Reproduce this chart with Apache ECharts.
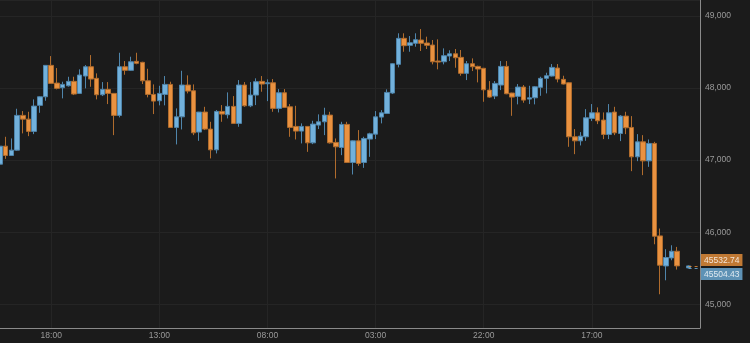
<!DOCTYPE html>
<html>
<head>
<meta charset="utf-8">
<script src="https://cdn.jsdelivr.net/npm/echarts@6/dist/echarts.min.js"></script>
<style>
html,body{margin:0;padding:0;background:#1b1b1b;}
#c{width:750px;height:343px;}
</style>
</head>
<body>
<div id="c"></div>
<script>
// hourly candles, first candle at 09:00
const startHour = 9;
const slotCount = 124;
const tickLabels = ['18:00', '13:00', '08:00', '03:00', '22:00', '17:00'];

const opens = [46944,47194,47065,47139,47621,47569,47399,47760,47879,48315,48069,48004,48032,48093,47926,48167,48296,48135,47907,47982,
47926,47621,48296,48246,48371,48357,48101,47912,47824,47912,48051,47454,47601,48042,47963,47389,47667,47431,47143,47676,
47630,47746,47510,48042,47754,47903,48093,48060,48074,47718,47935,47740,47468,47403,47468,47240,47486,47532,47625,47246,
47176,47496,46968,47268,46968,47292,47361,47597,47648,47931,48329,48690,48593,48621,48667,48625,48597,48375,48365,48444,
48476,48426,48204,48338,48301,48274,47972,47889,48042,48301,47931,47885,48014,47847,47865,48010,48135,48167,48278,48121,
48074,47324,47268,47324,47579,47657,47556,47357,47667,47370,47611,47454,47046,47254,46990,47232,45949,45532,45643,45736,
null,45504.43];
const closes = [47194,47065,47139,47621,47569,47399,47750,47879,48315,48065,47996,48051,48093,47917,48181,48296,48125,47907,47982,47926,
47621,48296,48246,48365,48343,48101,47912,47819,47926,48051,47454,47601,48042,47958,47379,47667,47431,47143,47676,47639,
47746,47510,48042,47754,47903,48088,48056,48074,47718,47935,47732,47454,47403,47468,47240,47500,47532,47625,47240,47185,
47496,46968,47268,46954,47301,47365,47601,47657,47940,48338,48690,48588,48629,48671,48621,48593,48365,48361,48449,48476,
48421,48204,48338,48296,48264,47976,47875,48065,48301,47921,47875,48014,47833,47865,48018,48135,48171,48287,48125,48056,
47324,47268,47333,47588,47657,47546,47357,47657,47379,47611,47449,47046,47254,46990,47232,45944,45542,45649,45736,45532.74,
null,45532.74];
const lows = [46917,47018,47060,47130,47371,47333,47361,47657,47824,48060,47982,47857,48020,47903,47920,47996,48018,47843,47889,47778,
47347,47593,48185,48240,48330,48056,47871,47639,47760,47760,47450,47218,47426,47926,47347,47268,47417,47024,47093,47532,
47579,47505,47463,47740,47735,47764,47949,47819,47671,47662,47725,47324,47287,47232,47115,47222,47431,47347,47230,46746,
47069,46960,46801,46921,46893,47046,47292,47510,47640,47917,48287,48504,48504,48574,48514,48542,48329,48260,48329,48375,
48282,48171,48111,48236,48079,47810,47865,47847,47972,47915,47615,47774,47796,47778,47774,47893,47926,48160,48079,48050,
47185,47083,47204,47268,47542,47500,47292,47292,47347,47264,47361,46847,46986,46792,46907,45833,45139,45333,45611,45482,
null,45500];
const highs = [47200,47324,47301,47713,47681,47671,47843,47885,48320,48444,48278,48088,48157,48157,48260,48319,48458,48204,48083,48083,
47930,48490,48375,48435,48490,48365,48268,48051,48032,48167,48088,47718,48240,48176,48051,47670,47740,47532,47695,47764,
47940,47889,48111,48083,48083,48135,48167,48121,48125,47986,47986,47778,47754,47510,47470,47546,47635,47727,47671,47301,
47532,47532,47275,47417,47324,47380,47681,47694,47982,48345,48760,48760,48722,48760,48819,48713,48667,48676,48551,48524,
48542,48528,48375,48412,48310,48280,48097,48097,48375,48375,47935,48056,48042,48032,48028,48157,48213,48333,48333,48171,
48080,47431,47389,47708,47778,47732,47662,47778,47740,47625,47671,47611,47361,47347,47287,47254,46051,45764,45819,45796,
null,45540];

const lastPrices = [45532.74, 45504.43];
const lastColors = ['#ea913b', '#6fb0dc'];

const categories = [];
for (let i = 0; i < slotCount; i++) {
  const h = (startHour + i) % 24;
  categories.push((h < 10 ? '0' : '') + h + ':00');
}
const candleData = opens.map((o, i) =>
  o == null ? '-' : [o, closes[i], lows[i], highs[i]]);

const isTick = (idx) => tickLabels.indexOf(categories[idx]) >= 0 && (idx - 9) % 19 === 0 && idx >= 9;

const lastIdx = opens.length - 1;
const markData = lastPrices.map((p, k) => [
  {
    coord: [lastIdx, p],
    lineStyle: { color: lastColors[k], type: [3, 3], width: 1, opacity: 0.8 },
    label: {
      show: true,
      position: 'end',
      distance: 1,
      verticalAlign: k === 0 ? 'bottom' : 'top',
      formatter: String(p.toFixed(2)),
      backgroundColor: lastColors[k],
      color: '#ffffff',
      fontSize: 8.5,
      fontFamily: 'Liberation Sans, Arial, sans-serif',
      padding: [2, 3, 1, 3],
      lineHeight: 9
    }
  },
  { coord: [slotCount - 1, p] }
]);

const chart = echarts.init(document.getElementById('c'), null, { renderer: 'canvas' });
chart.setOption({
  backgroundColor: '#1b1b1b',
  animation: false,
  grid: { left: 0, right: 50, top: 0, bottom: 15 },
  xAxis: {
    type: 'category',
    data: categories,
    boundaryGap: false,
    axisLine: { show: true, lineStyle: { color: '#8a8a8a', width: 1 } },
    axisTick: { show: false },
    axisLabel: {
      interval: (idx) => isTick(idx),
      color: '#9a9a9a',
      fontSize: 8.5,
      fontFamily: 'Liberation Sans, Arial, sans-serif',
      margin: 3
    },
    splitLine: { show: true, interval: (idx) => isTick(idx), lineStyle: { color: '#252525', width: 1 } }
  },
  yAxis: {
    type: 'value',
    position: 'right',
    min: 44671,
    max: 49222,
    splitNumber: 5,
    axisLine: { show: true, lineStyle: { color: '#8a8a8a', width: 1 } },
    axisTick: { show: false },
    axisLabel: {
      showMinLabel: false,
      showMaxLabel: false,
      color: '#9a9a9a',
      fontSize: 8.5,
      fontFamily: 'Liberation Sans, Arial, sans-serif',
      margin: 5,
      formatter: (v) => v.toLocaleString('en-US')
    },
    splitLine: { show: true, lineStyle: { color: '#252525', width: 1 } }
  },
  series: [{
    type: 'candlestick',
    data: candleData,
    barWidth: 5,
    itemStyle: {
      color: '#72b1dc',
      color0: '#ea9240',
      borderColor: '#4f85ab',
      borderColor0: '#b06c2d',
      borderWidth: 1
    },
    markLine: {
      silent: true,
      symbol: 'none',
      animation: false,
      data: markData
    }
  }]
});
</script>
</body>
</html>
